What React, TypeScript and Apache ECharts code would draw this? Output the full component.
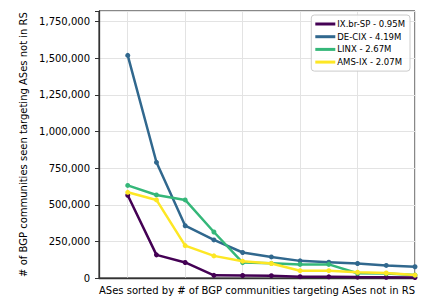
import React, { useEffect, useRef } from "react";
import * as echarts from "echarts";

const positions = [0, 1, 2, 3, 4, 5, 6, 7, 8, 9, 10];
const seriesNames = ["IX.br-SP - 0.95M", "DE-CIX - 4.19M", "LINX - 2.67M", "AMS-IX - 2.07M"];
const ixbrSP = [565000, 158000, 106000, 18000, 17000, 16000, 9000, 8000, 6000, 5000, 3000];
const deCIX = [1520000, 790000, 357000, 260000, 174000, 144000, 117000, 108000, 99000, 86000, 77000];
const linx = [632000, 567000, 533000, 314000, 105000, 100000, 93000, 93000, 32000, 30000, 20000];
const amsIX = [585000, 533000, 221000, 151000, 115000, 99000, 50000, 50000, 39000, 34000, 20000];
const colors = ["#440154", "#31688e", "#35b779", "#fde725"];
const yTicks = [0, 250000, 500000, 750000, 1000000, 1250000, 1500000, 1750000];

const FONT = "DejaVu Sans";

export default function App() {
  const ref = useRef<HTMLDivElement>(null);
  useEffect(() => {
    const chart = echarts.init(ref.current!, null, { renderer: "svg" });
    const all = [ixbrSP, deCIX, linx, amsIX];
    chart.setOption({
      animation: false,
      textStyle: { fontFamily: FONT },
      grid: {
        left: 99, right: 13, top: 11, bottom: 20,
        show: true, borderColor: "#111", borderWidth: 1, backgroundColor: "transparent",
      },
      legend: {
        orient: "vertical",
        right: 18,
        top: 15,
        padding: [4, 5, 4, 4],
        itemGap: 2.7,
        itemWidth: 20,
        itemHeight: 3,
        icon: "rect",
        backgroundColor: "rgba(255,255,255,0.85)",
        borderColor: "#cccccc",
        borderWidth: 1,
        borderRadius: 3,
        textStyle: { fontSize: 8.5, fontFamily: FONT, color: "#000", lineHeight: 10, padding: [0, 0, 0, -3] },
        data: seriesNames,
      },
      xAxis: {
        type: "value",
        min: -1,
        max: 10,
        splitNumber: 5,
        name: "ASes sorted by # of BGP communities targeting ASes not in RS",
        nameLocation: "middle",
        nameGap: 7,
        nameTextStyle: { fontSize: 10, fontFamily: FONT, color: "#000", verticalAlign: "top" },
        axisLine: { show: true, onZero: false, lineStyle: { color: "#333", width: 1.3 } },
        axisTick: { show: false },
        axisLabel: { show: false },
        splitLine: { show: true, lineStyle: { color: "#e3e3e3", width: 1 } },
      },
      yAxis: {
        type: "value",
        min: 0,
        max: 1823000,
        interval: 250000,
        name: "# of BGP communities seen targeting ASes not in RS",
        nameLocation: "middle",
        nameGap: 70,
        nameRotate: 90,
        nameTextStyle: { fontSize: 10, fontFamily: FONT, color: "#000" },
        axisLine: { show: true, onZero: false, lineStyle: { color: "#333", width: 1.3 } },
        axisTick: { show: true, length: 4, lineStyle: { color: "#333" } },
        axisLabel: {
          fontSize: 10, fontFamily: FONT, color: "#000", margin: 9,
          formatter: (v: number) => (yTicks.includes(v) ? v.toLocaleString("en-US") : ""),
        },
        splitLine: { show: true, lineStyle: { color: "#e3e3e3", width: 1 } },
      },
      series: all.map((d, i) => ({
        name: seriesNames[i],
        type: "line",
        data: d.map((v, j) => [positions[j], v]),
        symbol: "circle",
        symbolSize: 5,
        lineStyle: { width: 2.5, color: colors[i] },
        itemStyle: { color: colors[i] },
        z: 2 + i,
      })),
    });
    return () => chart.dispose();
  }, []);
  return <div ref={ref} style={{ width: 428, height: 300, position: "absolute", left: 0, top: 0 }} />;
}
